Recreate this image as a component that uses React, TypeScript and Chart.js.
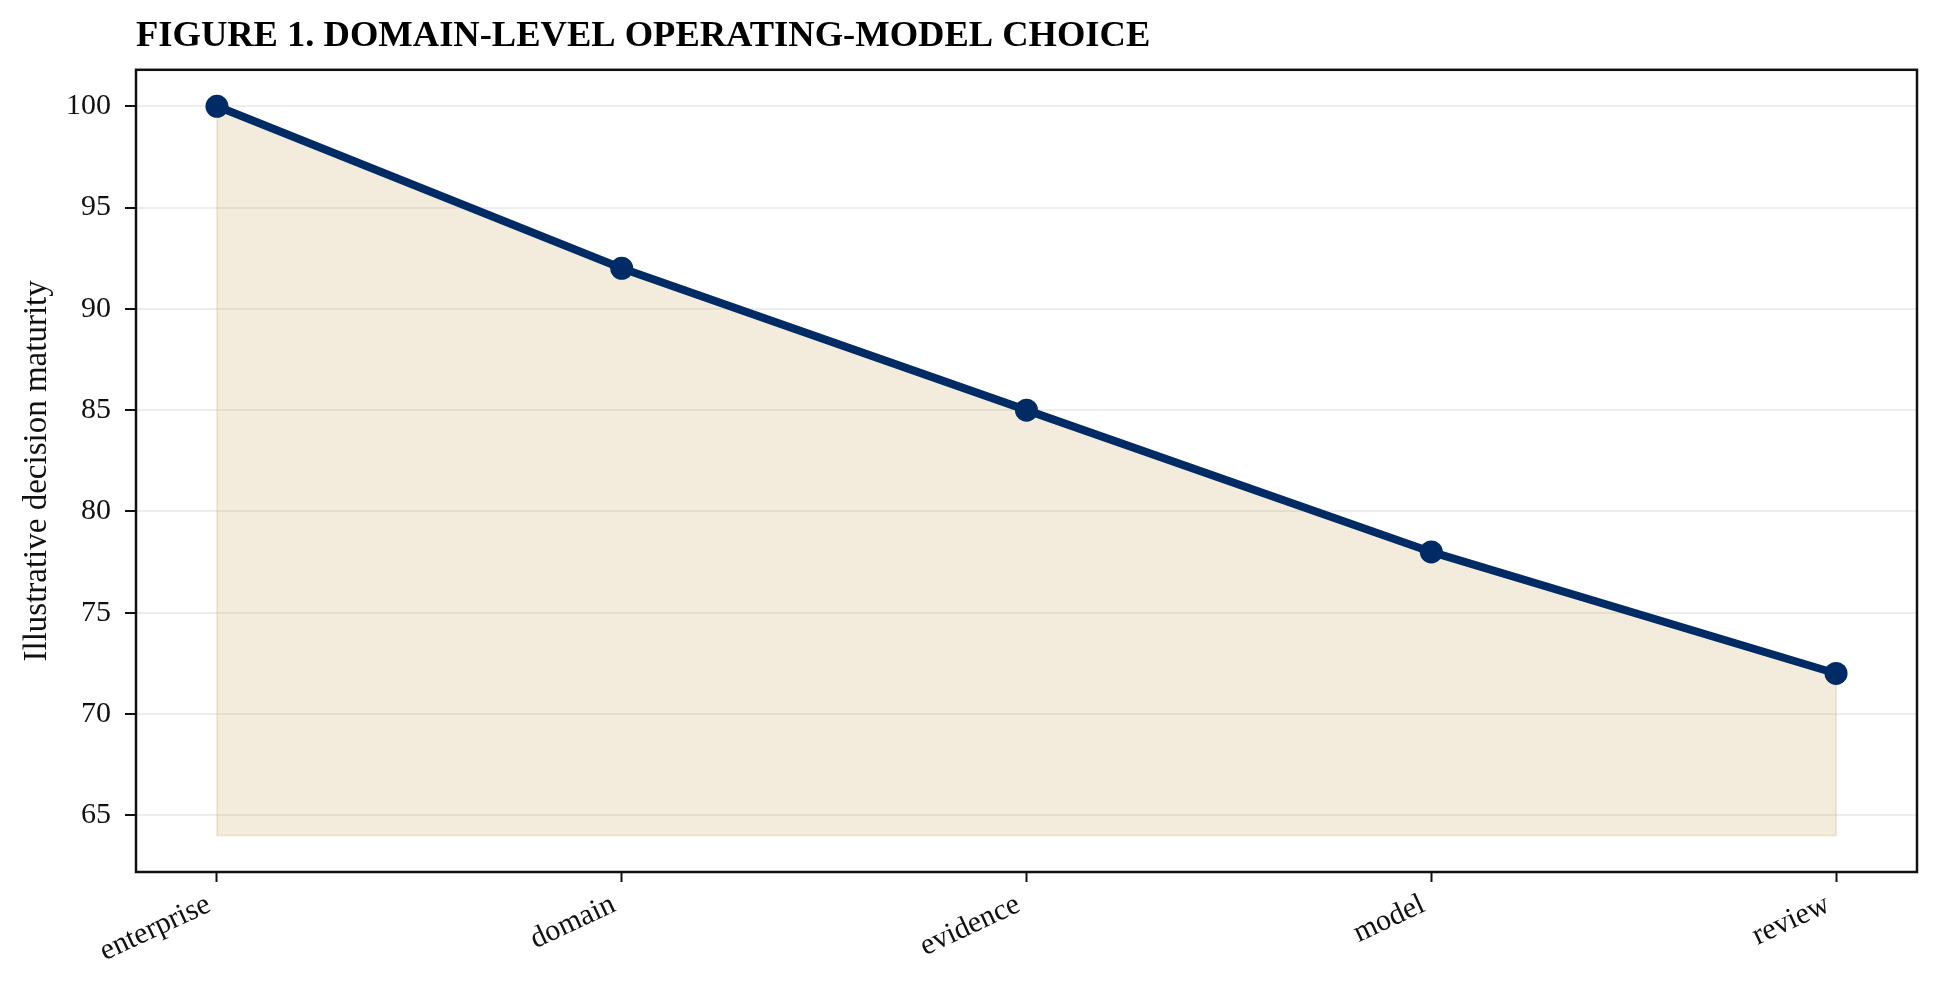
import { useEffect, useRef } from "react"
import { Chart, registerables } from "chart.js"

Chart.register(...registerables)

const stages = ["enterprise", "domain", "evidence", "model", "review"]
const maturity = [100, 92, 85, 78, 72]
const yTicks = [65, 70, 75, 80, 85, 90, 95, 100]
const fillBase = 64

const NAVY = "#002b64"
const SERIF = "'Liberation Serif', 'Times New Roman', serif"

// box around the plot area, like a matplotlib frame
const framePlugin = {
  id: "frame",
  beforeDatasetsDraw(chart: Chart) {
    // faint edge round the shaded area (fill_between edge)
    const pts = chart.getDatasetMeta(0).data
    if (!pts.length) return
    const base = chart.scales.y.getPixelForValue(fillBase)
    const { ctx } = chart
    ctx.save()
    ctx.strokeStyle = "rgba(201,165,90,0.22)"
    ctx.lineWidth = 2
    ctx.beginPath()
    ctx.moveTo(pts[0].x, pts[0].y)
    ctx.lineTo(pts[0].x, base)
    ctx.lineTo(pts[pts.length - 1].x, base)
    ctx.lineTo(pts[pts.length - 1].x, pts[pts.length - 1].y)
    ctx.stroke()
    ctx.restore()
  },
  afterDatasetsDraw(chart: Chart) {
    const { ctx, chartArea } = chart
    ctx.save()
    ctx.strokeStyle = "#111"
    ctx.lineWidth = 2.5
    ctx.strokeRect(chartArea.left, chartArea.top, chartArea.right - chartArea.left, chartArea.bottom - chartArea.top)
    ctx.restore()
  },
}

export default function App() {
  const chartRef = useRef<HTMLCanvasElement>(null)
  const chartInstance = useRef<Chart | null>(null)

  useEffect(() => {
    document.body.style.margin = "0"
    if (!chartRef.current) return
    if (chartInstance.current) chartInstance.current.destroy()
    const ctx = chartRef.current.getContext("2d")
    if (!ctx) return

    chartInstance.current = new Chart(ctx, {
      type: "line",
      data: {
        datasets: [
          {
            data: maturity.map((v, i) => ({ x: i, y: v })),
            borderColor: NAVY,
            borderWidth: 8,
            pointRadius: 11.5,
            pointBackgroundColor: NAVY,
            pointBorderWidth: 0,
            backgroundColor: "rgba(201,165,90,0.22)",
            fill: { value: fillBase },
            tension: 0,
          },
        ],
      },
      options: {
        animation: false,
        responsive: false,
        devicePixelRatio: 1,
        layout: { padding: { left: 0, right: 22, top: 0, bottom: 0 } },
        plugins: {
          legend: { display: false },
          tooltip: { enabled: false },
          title: {
            display: true,
            text: "FIGURE 1. DOMAIN-LEVEL OPERATING-MODEL CHOICE",
            align: "start",
            fullSize: false,
            color: "#000",
            font: { family: SERIF, size: 36.5, weight: "bold" },
            padding: { top: 15, bottom: 11 },
          },
        },
        scales: {
          x: {
            type: "linear",
            min: -0.2,
            max: 4.2,
            afterBuildTicks: (scale: any) => {
              scale.ticks = stages.map((_, i) => ({ value: i }))
            },
            afterFit: (scale: any) => {
              scale.height = 111
            },
            border: { display: false },
            grid: {
              drawOnChartArea: false,
              drawTicks: true,
              tickLength: 10,
              tickColor: "#111",
              tickWidth: 2,
            },
            ticks: {
              autoSkip: false,
              minRotation: 25,
              maxRotation: 25,
              padding: 5,
              labelOffset: -8,
              color: "#111",
              font: { family: SERIF, size: 30 },
              callback: (v: any) => stages[v] ?? "",
            },
          },
          y: {
            min: 62.2,
            max: 101.8,
            afterBuildTicks: (scale: any) => {
              scale.ticks = yTicks.map((v) => ({ value: v }))
            },
            afterFit: (scale: any) => {
              scale.width = 136
            },
            border: { display: false },
            grid: {
              color: "rgba(0,0,0,0.07)",
              lineWidth: 2,
              drawTicks: true,
              tickLength: 11,
              tickColor: "#111",
              tickWidth: 2,
            },
            ticks: {
              padding: 14,
              color: "#111",
              font: { family: SERIF, size: 30 },
            },
            title: {
              display: true,
              text: "Illustrative decision maturity",
              color: "#111",
              font: { family: SERIF, size: 33 },
              padding: { top: 18, bottom: 0 },
            },
          },
        },
      },
      plugins: [framePlugin],
    })

    return () => {
      if (chartInstance.current) {
        chartInstance.current.destroy()
        chartInstance.current = null
      }
    }
  }, [])

  return (
    <div style={{ width: 1939, height: 983, background: "#fff" }}>
      <canvas ref={chartRef} width={1939} height={983} style={{ display: "block" }} />
    </div>
  )
}
